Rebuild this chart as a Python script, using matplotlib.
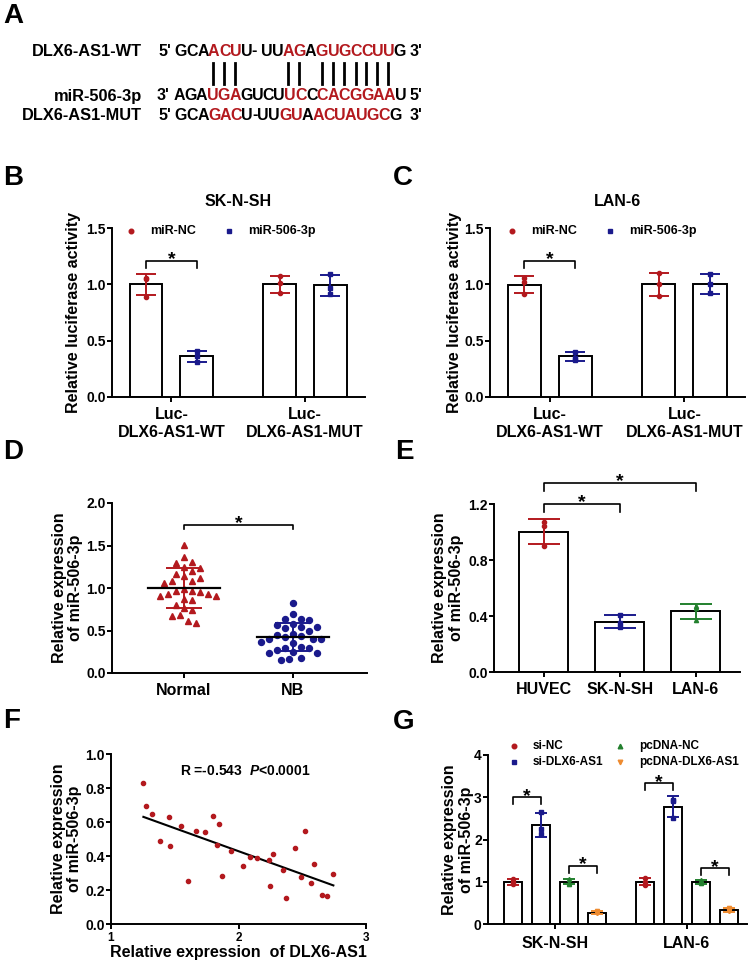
import numpy as np
import matplotlib
matplotlib.use("Agg")
import matplotlib.pyplot as plt
from matplotlib.lines import Line2D
from matplotlib.ticker import FormatStrFormatter
from matplotlib import font_manager
from matplotlib.ft2font import FT2Font

plt.rcParams["font.family"] = "Liberation Sans"
plt.rcParams["font.weight"] = "bold"
plt.rcParams["axes.labelweight"] = "bold"
plt.rcParams["axes.linewidth"] = 1.4
plt.rcParams["mathtext.fontset"] = "custom"
plt.rcParams["mathtext.it"] = "Liberation Sans:italic:bold"
plt.rcParams["mathtext.rm"] = "Liberation Sans:bold"

RED = "#B3191E"
BLUE = "#1A1A8C"
GREEN = "#23802E"
ORANGE = "#EE8B30"

# ---- A: binding sites (text, 1 = highlighted)
wt_label = "DLX6-AS1-WT"
wt_seq = [("5' GCA", 0), ("ACU", 1), ("U- UU", 0), ("AG", 1), ("A", 0), ("GUGCCUU", 1), ("G 3'", 0)]
mir_label = "miR-506-3p"
mir_seq = [("3' AGA", 0), ("UGA", 1), ("GUCU", 0), ("UC", 1), ("C", 0), ("CACGGAA", 1), ("U 5'", 0)]
mut_label = "DLX6-AS1-MUT"
mut_seq = [("5' GCA", 0), ("GAC", 1), ("U-UU", 0), ("GU", 1), ("A", 0), ("ACUAUGC", 1), ("G  3'", 0)]

# ---- B / C: luciferase (replicates per construct)
luc_groups = ["Luc-\nDLX6-AS1-WT", "Luc-\nDLX6-AS1-MUT"]
luc_series = ["miR-NC", "miR-506-3p"]
sksh_nc = [[1.06, 1.05, 0.89], [1.07, 1.01, 0.92]]
sksh_mir = [[0.41, 0.36, 0.31], [1.09, 0.97, 0.91]]
lan6_nc = [[1.06, 1.02, 0.91], [1.10, 1.00, 0.90]]
lan6_mir = [[0.40, 0.35, 0.33], [1.09, 1.00, 0.92]]

# ---- D: tissues
tissue_groups = ["Normal", "NB"]
normal_expr = [1.51, 1.36, 1.30, 1.31, 1.25, 1.24, 1.20, 1.17, 1.12, 1.14,
               1.08, 1.06, 1.08, 0.99, 0.96, 0.96, 0.95, 0.93, 0.91, 0.91,
               0.93, 0.86, 0.87, 0.80, 0.77, 0.74, 0.68, 0.67, 0.61, 0.59]
nb_expr = [0.82, 0.69, 0.62, 0.63, 0.64, 0.57, 0.58, 0.54, 0.54, 0.53,
           0.49, 0.44, 0.46, 0.45, 0.42, 0.40, 0.40, 0.40, 0.37, 0.35,
           0.31, 0.29, 0.29, 0.27, 0.25, 0.24, 0.23, 0.18, 0.16, 0.15]

# ---- E: cell lines
cell_lines = ["HUVEC", "SK-N-SH", "LAN-6"]
cell_expr = [[1.07, 1.04, 0.90], [0.41, 0.35, 0.32], [0.47, 0.46, 0.37]]

# ---- F: correlation
dlx6_expr = [1.254, 1.275, 1.324, 1.384, 1.455, 1.465, 1.546, 1.606, 1.667, 1.737,
             1.797, 1.829, 1.847, 1.868, 1.939, 2.038, 2.090, 2.148, 2.239, 2.249,
             2.267, 2.349, 2.370, 2.440, 2.490, 2.521, 2.569, 2.590, 2.652, 2.691, 2.744]
mir_expr = [0.83, 0.695, 0.65, 0.487, 0.63, 0.457, 0.574, 0.253, 0.545, 0.539,
            0.636, 0.467, 0.588, 0.283, 0.428, 0.343, 0.396, 0.386, 0.376, 0.224,
            0.412, 0.315, 0.152, 0.448, 0.275, 0.545, 0.242, 0.354, 0.172, 0.164, 0.293]
corr_text = r"R =-0.543  $\mathit{P}$<0.0001"

# ---- G: knockdown / overexpression
g_groups = ["SK-N-SH", "LAN-6"]
g_series = ["si-NC", "si-DLX6-AS1", "pcDNA-NC", "pcDNA-DLX6-AS1"]
g_vals = [
    [[1.07, 0.99, 0.94], [1.08, 1.00, 0.92]],
    [[2.66, 2.25, 2.13], [2.94, 2.90, 2.50]],
    [[1.07, 0.98, 0.95], [1.05, 1.00, 0.96]],
    [[0.30, 0.26, 0.25], [0.38, 0.31, 0.30]],
]

W, H = 750, 964
fig = plt.figure(figsize=(W / 100, H / 100), dpi=100)


def fx(px):
    return px / W


def fy(py):
    return 1 - py / H


def add_ax(x0, x1, ytop, ybot):
    ax = fig.add_axes([fx(x0), fy(ybot), (x1 - x0) / W, (ybot - ytop) / H])
    for s in ("top", "right"):
        ax.spines[s].set_visible(False)
    ax.tick_params(direction="out", length=3.5, width=1.4, labelsize=10, pad=1)
    ax.tick_params(axis="x", labelsize=11.5, pad=4)
    return ax


def ylab(ax, text, xpos, fs=11.5):
    ax.set_ylabel(text, fontsize=fs, va="center", linespacing=1.1)
    ax.yaxis.set_label_coords(xpos, 0.5)


def bracket(ax, x1, x2, y, leg):
    ax.plot([x1, x1, x2, x2], [y - leg, y, y, y - leg], color="black", lw=1.2, clip_on=False)
    ax.annotate("*", xy=((x1 + x2) / 2, y), xytext=(0, -2.5), textcoords="offset points",
                ha="center", va="baseline", fontsize=14, annotation_clip=False)


def key(ax, xm, xt, y, marker, color, label, fs):
    ax.plot([xm], [y], marker, color=color, ms=3.3, transform=ax.transAxes, clip_on=False)
    ax.text(xt, y, label, transform=ax.transAxes, fontsize=fs, va="center", ha="left")


def bars(ax, x, vals, width, col, marker, cap):
    m, sd = np.mean(vals), np.std(vals, ddof=1)
    ax.bar(x, m, width, color="white", edgecolor="black", lw=1.4, zorder=2)
    ax.errorbar(x, m, yerr=sd, color=col, capsize=cap, elinewidth=1.4, capthick=1.4, zorder=3)
    ax.plot([x] * len(vals), vals, marker, color=col, ms=3, ls="none", zorder=4)


def swarm(vals, sx, sy, d):
    # simple beeswarm: offsets (data units) so markers stay d pixels apart
    vals = np.asarray(vals)
    placed, offs = [], np.zeros(len(vals))
    cands = [0.0]
    for n in range(1, 30):
        cands += [n * d / 2, -n * d / 2]
    for i in np.argsort(vals)[::-1]:
        yp = vals[i] * sy
        for c in cands:
            if all((c - px) ** 2 + (yp - py) ** 2 >= d * d for px, py in placed):
                break
        placed.append((c, yp))
        offs[i] = c / sx
    return offs


# panel letters
for letter, x, y in [("A", 3, 16), ("B", 3, 178), ("C", 393, 178), ("D", 3, 452),
                     ("E", 395, 452), ("F", 3, 721), ("G", 393, 722)]:
    fig.text(fx(x), fy(y), letter, fontsize=20, fontweight="bold", ha="left", va="center")

# ---------------- A
SEQ_FS = 11.5
TRACK = 0.94
font = FT2Font(font_manager.findfont(font_manager.FontProperties(family="Liberation Sans", weight="bold")))
font.set_size(SEQ_FS, 100)


def adv(ch):
    return TRACK * font.load_char(ord(ch)).linearHoriAdvance / 65536


def draw_seq(label, segs, x0, y):
    fig.text(fx(142), fy(y), label, fontsize=11.8, ha="right", va="center")
    x = x0
    centers = []
    for s, hl in segs:
        for ch in s:
            a = adv(ch)
            if ch != " ":
                fig.text(fx(x), fy(y), ch, fontsize=SEQ_FS, color=RED if hl else "black",
                         ha="left", va="center")
            if hl:
                centers.append(x + a / 2)
            x += a
    return centers


pair_x = draw_seq(wt_label, wt_seq, 158.5, 51)
draw_seq(mir_label, mir_seq, 157, 96)
draw_seq(mut_label, mut_seq, 158.5, 115)
for c in pair_x:
    fig.add_artist(Line2D([fx(c), fx(c)], [fy(63), fy(84)], color="black", lw=2))

# ---------------- B and C
for (x0, x1, title, nc, mir, kx, ylx) in [
        (112, 365, "SK-N-SH", sksh_nc, sksh_mir, (0.075, 0.15, 0.462, 0.538), -0.154),
        (490, 745, "LAN-6", lan6_nc, lan6_mir, (0.086, 0.161, 0.47, 0.545), -0.141)]:
    ax = add_ax(x0, x1, 228, 397)
    for reps, col, mk, sgn in ((nc, RED, "o", -1), (mir, BLUE, "s", 1)):
        for g, vals in enumerate(reps):
            bars(ax, g + sgn * 0.19, vals, 0.246, col, mk, 7)
    ax.set_xlim(-0.445, 1.45)
    ax.set_ylim(0, 1.5)
    ax.set_yticks([0, 0.5, 1.0, 1.5])
    ax.yaxis.set_major_formatter(FormatStrFormatter("%.1f"))
    ax.set_xticks(range(len(luc_groups)))
    ax.set_xticklabels(luc_groups, fontsize=11.5)
    ax.text(0.5, 1.154, title, transform=ax.transAxes, ha="center", va="center", fontsize=11.5)
    key(ax, kx[0], kx[1], 0.985, "o", RED, luc_series[0], 9)
    key(ax, kx[2], kx[3], 0.985, "s", BLUE, luc_series[1], 9)
    bracket(ax, -0.19, 0.19, 1.21, 0.065)
    ylab(ax, "Relative luciferase activity", ylx)

# ---------------- D
ax = add_ax(112, 367, 503, 673)
ax.set_xlim(-0.66, 1.68)
ax.set_ylim(0, 2.0)
for g, (vals, col, mk) in enumerate([(normal_expr, RED, "^"), (nb_expr, BLUE, "o")]):
    offs = swarm(vals, 109, 85, 8)
    ax.plot(g + offs, vals, mk, color=col, ms=4.3, ls="none", zorder=3, clip_on=False)
    m, sd = np.mean(vals), np.std(vals, ddof=1)
    ax.errorbar(g, m, yerr=sd, color=col, capsize=13, elinewidth=1.4, capthick=1.4, zorder=4)
    ax.plot([g - 0.33, g + 0.33], [m, m], color="black", lw=1.6, zorder=5)
ax.set_yticks([0, 0.5, 1.0, 1.5, 2.0])
ax.yaxis.set_major_formatter(FormatStrFormatter("%.1f"))
ax.set_xticks(range(len(tissue_groups)))
ax.set_xticklabels(tissue_groups, fontsize=11.5)
bracket(ax, 0, 1, 1.74, 0.05)
ylab(ax, "Relative expression\nof miR-506-3p", -0.173)

# ---------------- E
ax = add_ax(494, 740, 504, 672)
for g, (vals, col, mk) in enumerate(zip(cell_expr, [RED, BLUE, GREEN], ["o", "s", "^"])):
    bars(ax, g, vals, 0.64, col, mk, 11.5)
ax.set_xlim(-0.65, 2.58)
ax.set_ylim(0, 1.2)
ax.set_yticks([0, 0.4, 0.8, 1.2])
ax.yaxis.set_major_formatter(FormatStrFormatter("%.1f"))
ax.set_xticks(range(len(cell_lines)))
ax.set_xticklabels(cell_lines, fontsize=11.5)
bracket(ax, 0, 1, 1.2, 0.057)
bracket(ax, 0, 2, 1.35, 0.057)
ylab(ax, "Relative expression\nof miR-506-3p", -0.187)

# ---------------- F
ax = add_ax(111, 366, 754, 924)
ax.plot(dlx6_expr, mir_expr, "o", color=RED, ms=3, ls="none", zorder=3)
slope, icpt = np.polyfit(dlx6_expr, mir_expr, 1)
xl = np.array([min(dlx6_expr), max(dlx6_expr)])
ax.plot(xl, slope * xl + icpt, color="black", lw=1.5, zorder=2)
ax.set_xlim(1, 3)
ax.set_ylim(0, 1.0)
ax.set_xticks([1, 2, 3])
ax.tick_params(axis="x", labelsize=8.5, pad=2)
ax.set_yticks(np.arange(0, 1.01, 0.2))
ax.yaxis.set_major_formatter(FormatStrFormatter("%.1f"))
ax.text((245 - 111) / 255, (924 - 771) / 170, corr_text, transform=ax.transAxes,
        ha="center", va="center", fontsize=10)
ax.set_xlabel("Relative expression  of DLX6-AS1", fontsize=11.5)
ax.xaxis.set_label_coords(0.5, -0.125)
ylab(ax, "Relative expression\nof miR-506-3p", -0.176)

# ---------------- G
ax = add_ax(488, 747, 755, 924)
g_cols = [RED, BLUE, GREEN, ORANGE]
g_marks = ["o", "s", "^", "v"]
g_off = (np.arange(4) - 1.5) * 0.213
for j, series in enumerate(g_vals):
    for g, vals in enumerate(series):
        bars(ax, g + g_off[j], vals, 0.137, g_cols[j], g_marks[j], 4.3)
ax.set_xlim(-0.51, 1.46)
ax.set_ylim(0, 4)
ax.set_yticks(range(5))
ax.set_xticks(range(len(g_groups)))
ax.set_xticklabels(g_groups, fontsize=11.5)
ax.tick_params(axis="x", pad=5.5)
bracket(ax, g_off[0], g_off[1], 3.0, 0.17)
bracket(ax, g_off[2], g_off[3], 1.38, 0.17)
bracket(ax, 1 + g_off[0], 1 + g_off[1], 3.33, 0.17)
bracket(ax, 1 + g_off[2], 1 + g_off[3], 1.32, 0.17)
key(ax, 0.10, 0.174, 1.053, "o", RED, g_series[0], 8.5)
key(ax, 0.10, 0.174, 0.959, "s", BLUE, g_series[1], 8.5)
key(ax, 0.51, 0.583, 1.053, "^", GREEN, g_series[2], 8.5)
key(ax, 0.51, 0.583, 0.959, "v", ORANGE, g_series[3], 8.5)
ylab(ax, "Relative expression\nof miR-506-3p", -0.116)

fig.savefig("out.png", dpi=100)
